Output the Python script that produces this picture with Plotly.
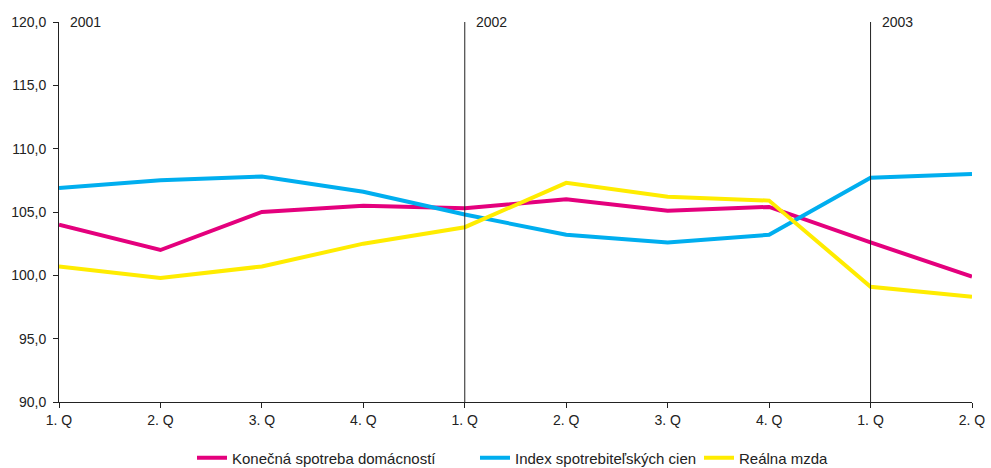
import plotly.graph_objects as go

quarters = ["1. Q", "2. Q", "3. Q", "4. Q", "1. Q", "2. Q", "3. Q", "4. Q", "1. Q", "2. Q"]
years = ["2001", "2002", "2003"]
year_start_idx = [0, 4, 8]

spotreba = [104.0, 102.0, 105.0, 105.5, 105.3, 106.0, 105.1, 105.4, 102.6, 99.9]
index_cien = [106.9, 107.5, 107.8, 106.6, 104.8, 103.2, 102.6, 103.2, 107.7, 108.0]
mzda = [100.7, 99.8, 100.7, 102.5, 103.8, 107.3, 106.2, 105.9, 99.1, 98.3]

names = ["Konečná spotreba domácností", "Index spotrebiteľských cien", "Reálna mzda"]
colors = ["#E4007D", "#00AEEF", "#FFEC00"]
legend_ids = ["legend", "legend2", "legend3"]
legend_px = [200, 483, 707]

W, H = 991, 468
FONT = "Liberation Sans, Arial, sans-serif"
x = list(range(len(quarters)))
fig = go.Figure()
for name, vals, col, lid in zip(names, [spotreba, index_cien, mzda], colors, legend_ids):
    fig.add_trace(go.Scatter(x=x, y=vals, mode="lines", name=name, legend=lid,
                             line=dict(color=col, width=4)))

for idx, yr in zip(year_start_idx, years):
    if idx > 0:
        fig.add_shape(type="line", xref="x", yref="paper", x0=idx, x1=idx, y0=0, y1=1,
                      line=dict(color="#222222", width=1))
    fig.add_annotation(x=idx, y=1, xref="x", yref="paper", text=yr, showarrow=False,
                       xanchor="left", yanchor="middle", xshift=9,
                       font=dict(size=14, color="#222222"))

legends = {}
for lid, px in zip(legend_ids, legend_px):
    legends[lid] = dict(orientation="h", xref="container", yref="container",
                        x=(px - 8) / W, xanchor="left", y=1 - 458 / H, yanchor="middle",
                        font=dict(size=15, family=FONT, color="#222222"),
                        bgcolor="rgba(0,0,0,0)", borderwidth=0)

fig.update_layout(
    width=W, height=H,
    margin=dict(l=59, r=19, t=22, b=66, autoexpand=False),
    paper_bgcolor="white", plot_bgcolor="white",
    separators=", ",
    font=dict(family=FONT, size=15, color="#222222"),
    showlegend=True,
    xaxis=dict(range=[0, 9], tickmode="array", tickvals=x, ticktext=quarters,
               showgrid=False, zeroline=False, showline=True, linecolor="#222222", linewidth=1,
               ticks="outside", ticklen=5, tickcolor="#222222", automargin=False,
               tickfont=dict(size=14)),
    yaxis=dict(range=[90, 120], tickmode="linear", tick0=90, dtick=5, tickformat=".1f",
               showgrid=False, zeroline=False, showline=True, linecolor="#222222", linewidth=1,
               ticks="outside", ticklen=5, tickcolor="#222222", automargin=False,
               ticklabelstandoff=4, tickfont=dict(size=14)),
    **legends,
)

fig.write_html("out.html", config={"displayModeBar": False},
               post_script="document.body.style.margin='0';document.body.style.overflow='hidden';")
